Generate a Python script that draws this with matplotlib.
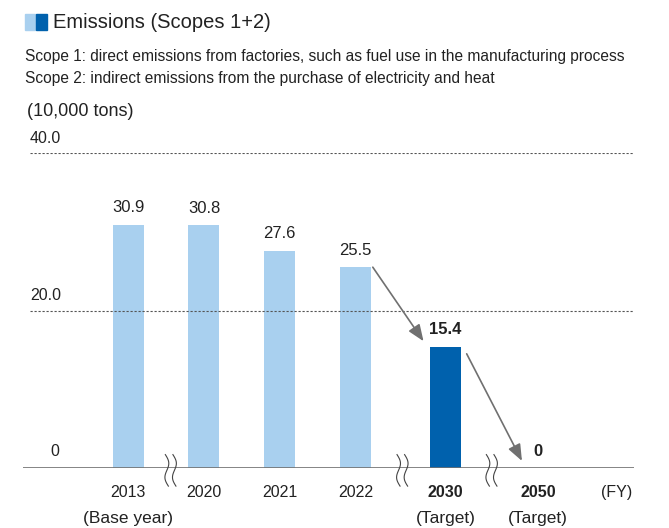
import numpy as np
import matplotlib.pyplot as plt

# data
years = ["2013", "2020", "2021", "2022", "2030", "2050"]
sublabels = ["(Base year)", "", "", "", "(Target)", "(Target)"]
values = [30.9, 30.8, 27.6, 25.5, 15.4, 0]
is_target = [False, False, False, False, True, True]
xpos = [0, 1, 2, 3, 4.19, 5.41]   # gaps where the axis is broken
breaks = [0.56, 3.62, 4.8]

light = "#a9d0ef"
dark = "#0061ad"
grey = "#707070"
txt = "#222222"

plt.rcParams['font.family'] = ["Liberation Sans", "DejaVu Sans"]

fig = plt.figure(figsize=(6.69, 5.28), dpi=100)
ax = fig.add_axes([23/669, 60/528, (634-23)/669, (468-153)/528])
ax.set_xlim(-1.39, 6.68)
ax.set_ylim(0, 40)
ax.axis("off")

cols = [dark if t else light for t in is_target]
ax.bar(xpos, values, width=0.41, color=cols, zorder=2)

# grid lines
for g in [20, 40]:
    ax.plot([-1.3, 6.68], [g, g], ls=(0, (2, 1.6)), color="#555555", lw=0.8)
ax.plot([-1.39, 6.68], [0, 0], color=grey, lw=1.2, zorder=3)

# y labels
ax.text(-1.3, 40.9, "40.0", fontsize=11.5, color=txt, va="bottom", ha="left")
ax.text(-1.3, 20.9, "20.0", fontsize=11.5, color=txt, va="bottom", ha="left")
ax.text(-0.97, 1.2, "0", fontsize=11.5, color=txt, va="bottom", ha="center")

# value labels
for x, v, t in zip(xpos, values, is_target):
    s = "0" if v == 0 else f"{v:.1f}"
    ax.text(x, v + 1.2, s, ha="center", va="bottom", fontsize=12,
            fontweight="bold" if t else "normal", color=txt, zorder=4)

# x labels
for x, y, sl, t in zip(xpos, years, sublabels, is_target):
    ax.text(x, -2.2, y, ha="center", va="top", fontsize=11.5,
            fontweight="bold" if t else "normal", color=txt)
    if sl:
        ax.text(x, -5.5, sl, ha="center", va="top", fontsize=12.5, color=txt)
ax.text(6.45, -2.2, "(FY)", ha="center", va="top", fontsize=11.5, color=txt)

# break marks
tt = np.linspace(-1, 1, 40)
for b in breaks:
    for dx in [-0.05, 0.05]:
        xs = b + dx + 0.035 * np.sin(tt * np.pi) - 0.02 * tt
        ys = 2.0 * tt - 0.3
        ax.plot(xs, ys, color="#444444", lw=0.8, zorder=5, clip_on=False)

# arrows
arr = dict(arrowstyle="-|>,head_length=1.0,head_width=0.4", color=grey, lw=1.2,
           shrinkA=0, shrinkB=0)
ax.annotate("", xy=(3.9, 16.1), xytext=(3.23, 25.5), arrowprops=arr)
ax.annotate("", xy=(5.2, 0.9), xytext=(4.47, 14.5), arrowprops=arr)

# header
fig.patches.append(plt.Rectangle((25/669, 1-30/528), 10/669, 16/528,
                                 transform=fig.transFigure, color=light))
fig.patches.append(plt.Rectangle((36/669, 1-30/528), 11/669, 16/528,
                                 transform=fig.transFigure, color=dark))
fig.text(53/669, 1-22/528, "Emissions (Scopes 1+2)", fontsize=14.5,
         va="center", ha="left", color=txt)
fig.text(25/669, 1-56/528,
         "Scope 1: direct emissions from factories, such as fuel use in the manufacturing process",
         fontsize=11.2, va="center", ha="left", color=txt)
fig.text(25/669, 1-78/528,
         "Scope 2: indirect emissions from the purchase of electricity and heat",
         fontsize=11.2, va="center", ha="left", color=txt)
fig.text(27/669, 1-111/528, "(10,000 tons)", fontsize=13, va="center",
         ha="left", color=txt)

fig.savefig("out.png", dpi=100)
